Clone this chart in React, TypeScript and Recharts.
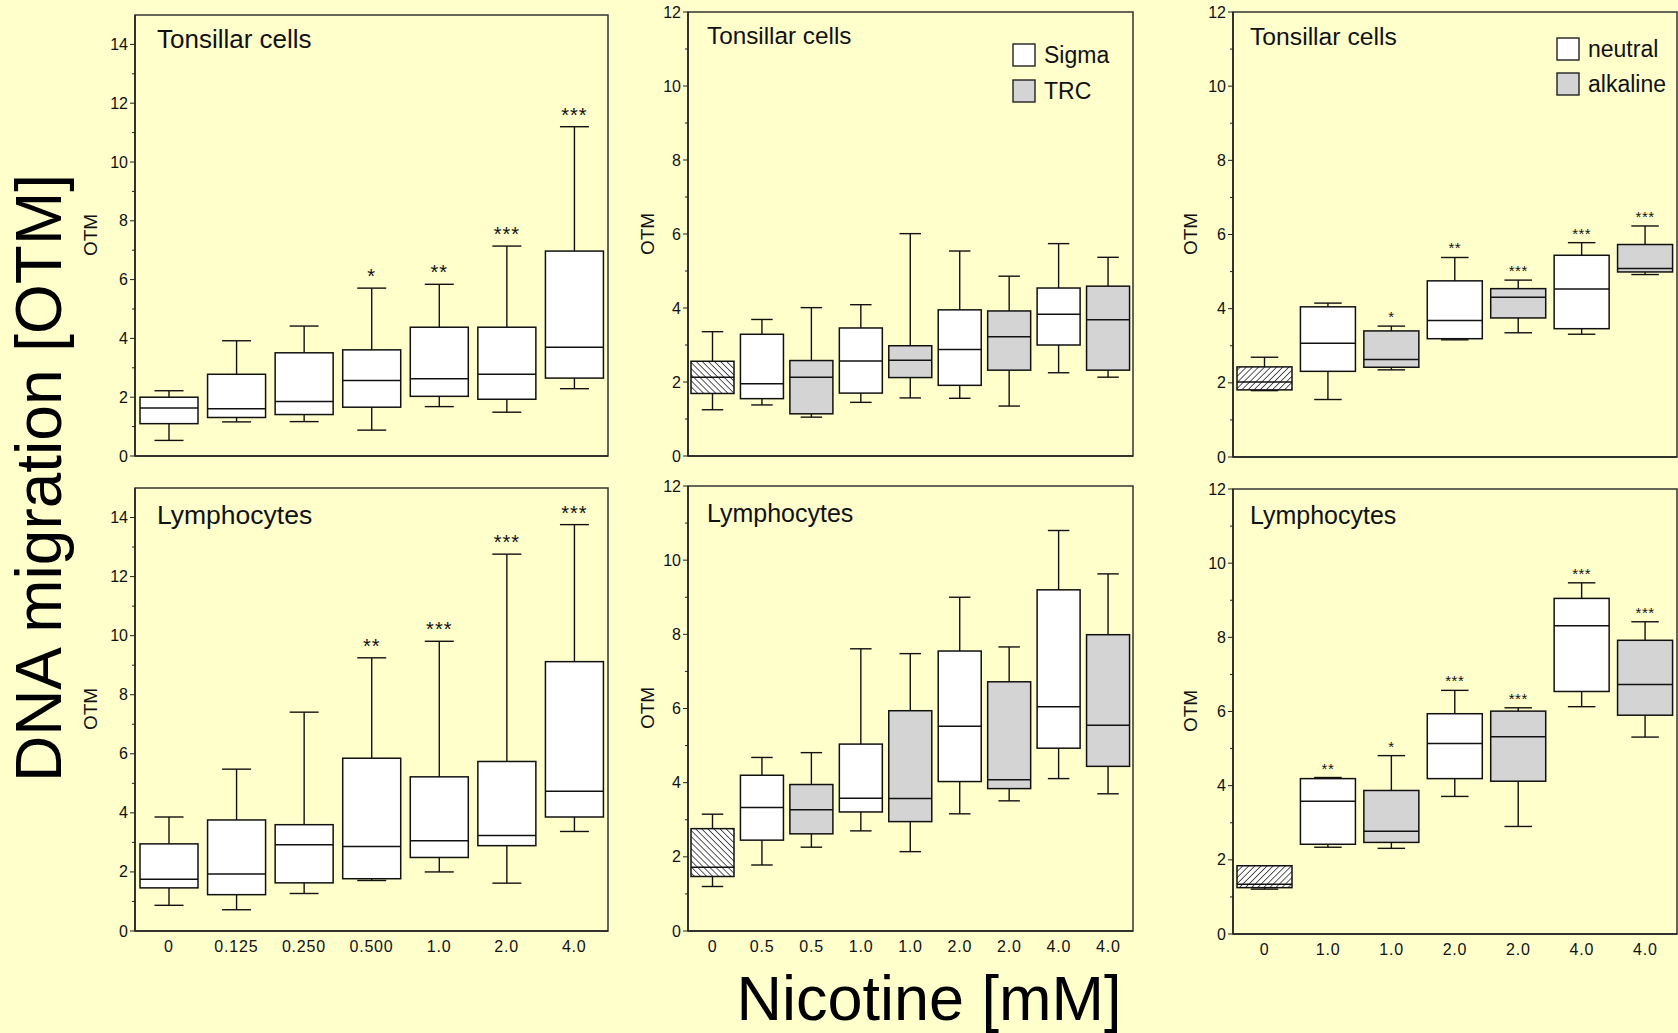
import React from 'react';
import { ComposedChart, Bar, XAxis, YAxis, ReferenceArea } from 'recharts';

const FONT = '"Liberation Sans", Arial, Helvetica, sans-serif';
const BG = '#FFFFCC';
const INK = '#111';

// left column: nicotine dose series
const doseLabels = ['0', '0.125', '0.250', '0.500', '1.0', '2.0', '4.0'];
const doseGroups = ['control', 'nicotine', 'nicotine', 'nicotine', 'nicotine', 'nicotine', 'nicotine'];

const tonsilDoseLow = [0.53, 1.16, 1.17, 0.88, 1.68, 1.49, 2.29];
const tonsilDoseQ1 = [1.10, 1.31, 1.41, 1.66, 2.03, 1.93, 2.65];
const tonsilDoseMed = [1.63, 1.61, 1.85, 2.57, 2.63, 2.78, 3.70];
const tonsilDoseQ3 = [2.00, 2.78, 3.51, 3.61, 4.38, 4.38, 6.97];
const tonsilDoseHigh = [2.22, 3.92, 4.42, 5.71, 5.84, 7.14, 11.2];
const tonsilDoseSig = ['', '', '', '*', '**', '***', '***'];

const lymphDoseLow = [0.87, 0.72, 1.27, 1.71, 2.00, 1.62, 3.37];
const lymphDoseQ1 = [1.46, 1.23, 1.63, 1.77, 2.49, 2.89, 3.86];
const lymphDoseMed = [1.75, 1.93, 2.92, 2.86, 3.06, 3.23, 4.73];
const lymphDoseQ3 = [2.95, 3.76, 3.60, 5.85, 5.22, 5.74, 9.12];
const lymphDoseHigh = [3.86, 5.48, 7.41, 9.25, 9.81, 12.76, 13.76];
const lymphDoseSig = ['', '', '', '**', '***', '***', '***'];

// middle column: Sigma vs TRC nicotine
const supplierLabels = ['0', '0.5', '0.5', '1.0', '1.0', '2.0', '2.0', '4.0', '4.0'];
const supplierGroups = ['control', 'Sigma', 'TRC', 'Sigma', 'TRC', 'Sigma', 'TRC', 'Sigma', 'TRC'];

const tonsilSupLow = [1.25, 1.38, 1.05, 1.45, 1.57, 1.56, 1.35, 2.25, 2.13];
const tonsilSupQ1 = [1.69, 1.55, 1.14, 1.70, 2.12, 1.91, 2.32, 3.00, 2.32];
const tonsilSupMed = [2.13, 1.95, 2.13, 2.57, 2.59, 2.88, 3.22, 3.83, 3.68];
const tonsilSupQ3 = [2.56, 3.29, 2.58, 3.46, 2.98, 3.95, 3.92, 4.54, 4.59];
const tonsilSupHigh = [3.36, 3.69, 4.01, 4.09, 6.01, 5.54, 4.86, 5.74, 5.37];

const lymphSupLow = [1.20, 1.78, 2.26, 2.70, 2.14, 3.16, 3.51, 4.11, 3.70];
const lymphSupQ1 = [1.47, 2.45, 2.62, 3.21, 2.95, 4.03, 3.84, 4.93, 4.44];
const lymphSupMed = [1.72, 3.33, 3.27, 3.58, 3.57, 5.52, 4.08, 6.05, 5.55];
const lymphSupQ3 = [2.76, 4.20, 3.95, 5.04, 5.94, 7.55, 6.72, 9.20, 7.99];
const lymphSupHigh = [3.15, 4.68, 4.81, 7.61, 7.48, 9.00, 7.66, 10.80, 9.63];

// right column: neutral vs alkaline comet assay
const phLabels = ['0', '1.0', '1.0', '2.0', '2.0', '4.0', '4.0'];
const phGroups = ['control', 'neutral', 'alkaline', 'neutral', 'alkaline', 'neutral', 'alkaline'];

const tonsilPhLow = [1.79, 1.55, 2.35, 3.16, 3.35, 3.31, 4.92];
const tonsilPhQ1 = [1.81, 2.31, 2.42, 3.19, 3.75, 3.46, 4.99];
const tonsilPhMed = [2.02, 3.07, 2.63, 3.68, 4.31, 4.53, 5.08];
const tonsilPhQ3 = [2.43, 4.05, 3.40, 4.75, 4.54, 5.44, 5.73];
const tonsilPhHigh = [2.69, 4.15, 3.53, 5.38, 4.77, 5.78, 6.23];
const tonsilPhSig = ['', '', '*', '**', '***', '***', '***'];

const lymphPhLow = [1.21, 2.34, 2.31, 3.71, 2.90, 6.13, 5.31];
const lymphPhQ1 = [1.25, 2.42, 2.47, 4.19, 4.12, 6.54, 5.90];
const lymphPhMed = [1.34, 3.58, 2.77, 5.14, 5.32, 8.31, 6.73];
const lymphPhQ3 = [1.84, 4.19, 3.87, 5.94, 6.01, 9.05, 7.92];
const lymphPhHigh = [1.84, 4.22, 4.81, 6.57, 6.10, 9.47, 8.42];
const lymphPhSig = ['', '**', '*', '***', '***', '***', '***'];

type Row = {
  label: string; group: string;
  low: number; q1: number; med: number; q3: number; high: number; sig: string;
};

const makeRows = (
  labels: string[], groups: string[], low: number[], q1: number[], med: number[],
  q3: number[], high: number[], sig?: string[],
): Row[] =>
  labels.map((label, i) => ({
    label, group: groups[i], low: low[i], q1: q1[i], med: med[i], q3: q3[i], high: high[i],
    sig: sig ? sig[i] : '',
  }));

const GRAY = '#D4D4D4';
const groupFill: Record<string, string> = {
  nicotine: '#fff', Sigma: '#fff', neutral: '#fff', TRC: GRAY, alkaline: GRAY,
};

const AXIS_W = 60;
const PAD_T = 10;
const PAD_R = 2;
const X_H = 40;

const BoxShape = (props: any) => {
  const { x, y, width, height, payload, controlFill, starSize } = props;
  if (!payload || height == null || !isFinite(y)) return null;
  const { low, high, q1, med, q3, group, sig } = payload as Row;
  // map values to pixels from the range bar recharts laid out (high -> y, low -> y + height)
  const py = (v: number) => y + (height * (high - v)) / (high - low);
  const cx = x + width / 2;
  const cap = width * 0.25;
  const fill = group === 'control' ? controlFill : groupFill[group];
  return (
    <g>
      <line x1={cx} x2={cx} y1={py(high)} y2={py(low)} stroke={INK} strokeWidth={1.4} />
      <line x1={cx - cap} x2={cx + cap} y1={py(high)} y2={py(high)} stroke={INK} strokeWidth={1.4} />
      <line x1={cx - cap} x2={cx + cap} y1={py(low)} y2={py(low)} stroke={INK} strokeWidth={1.4} />
      <rect x={x} y={py(q3)} width={width} height={py(q1) - py(q3)} fill={fill} stroke={INK} strokeWidth={1.5} />
      <line x1={x} x2={x + width} y1={py(med)} y2={py(med)} stroke={INK} strokeWidth={1.5} />
      {sig && (
        <text x={cx} y={py(high) - (starSize > 16 ? 5 : 4)} textAnchor="middle" fontSize={starSize}
          fontFamily={FONT} fill={INK} letterSpacing={starSize > 16 ? 1 : 0.5}>{sig}</text>
      )}
    </g>
  );
};

const YTick = (props: any) => {
  const { y, payload, axisX } = props;
  const v = Number(payload.value);
  const major = v % 2 === 0;
  return (
    <g>
      <line x1={axisX - (major ? 5 : 3)} x2={axisX} y1={y} y2={y} stroke="#222" strokeWidth={1} />
      {major && (
        <text x={axisX - 7} y={y} dy={5.5} textAnchor="end" fontSize={16} fontFamily={FONT} fill={INK}>{v}</text>
      )}
    </g>
  );
};

const XTick = (props: any) => {
  const { x, payload, axisY } = props;
  return (
    <text x={x} y={axisY + 20.5} textAnchor="middle" fontSize={16} letterSpacing={0.8}
      fontFamily={FONT} fill={INK}>{payload.value}</text>
  );
};

type Plot = { left: number; top: number; width: number; height: number };

const BoxPanel: React.FC<{
  rows: Row[]; yMax: number; tickMax: number; plot: Plot; barSize: number;
  controlFill: string; starSize: number; showX: boolean;
}> = ({ rows, yMax, tickMax, plot, barSize, controlFill, starSize, showX }) => {
  const yTicks = Array.from({ length: tickMax + 1 }, (_, i) => i);
  const axisY = PAD_T + plot.height;
  return (
    <div style={{ position: 'absolute', left: plot.left - AXIS_W, top: plot.top - PAD_T }}>
      <ComposedChart
        width={AXIS_W + plot.width + PAD_R}
        height={PAD_T + plot.height + X_H}
        data={rows}
        margin={{ top: PAD_T, right: PAD_R, bottom: 0, left: 0 }}
      >
        <XAxis
          dataKey="label"
          height={X_H}
          interval={0}
          tickLine={false}
          axisLine={{ stroke: '#222', strokeWidth: 1.5 }}
          tick={showX ? <XTick axisY={axisY} /> : false}
        />
        <YAxis
          type="number"
          width={AXIS_W}
          domain={[0, yMax]}
          ticks={yTicks}
          interval={0}
          tickLine={false}
          axisLine={{ stroke: '#222', strokeWidth: 1.5 }}
          tick={<YTick axisX={AXIS_W} />}
        />
        <ReferenceArea y1={0} y2={yMax} fill="none" stroke="#333" strokeWidth={1.5} ifOverflow="visible" />
        <Bar
          dataKey={(d: Row) => [d.low, d.high]}
          barSize={barSize}
          isAnimationActive={false}
          shape={(p: any) => <BoxShape {...p} controlFill={controlFill} starSize={starSize} />}
        />
      </ComposedChart>
    </div>
  );
};

const panels = [
  { key: 'tl', rows: makeRows(doseLabels, doseGroups, tonsilDoseLow, tonsilDoseQ1, tonsilDoseMed, tonsilDoseQ3, tonsilDoseHigh, tonsilDoseSig),
    yMax: 15, tickMax: 14, plot: { left: 135, top: 15, width: 473, height: 441 }, barSize: 58, controlFill: '#fff', starSize: 20, showX: false },
  { key: 'bl', rows: makeRows(doseLabels, doseGroups, lymphDoseLow, lymphDoseQ1, lymphDoseMed, lymphDoseQ3, lymphDoseHigh, lymphDoseSig),
    yMax: 15, tickMax: 14, plot: { left: 135, top: 488, width: 473, height: 443 }, barSize: 58, controlFill: '#fff', starSize: 20, showX: true },
  { key: 'tm', rows: makeRows(supplierLabels, supplierGroups, tonsilSupLow, tonsilSupQ1, tonsilSupMed, tonsilSupQ3, tonsilSupHigh),
    yMax: 12, tickMax: 12, plot: { left: 688, top: 12, width: 445, height: 444 }, barSize: 43, controlFill: 'url(#hatchDown)', starSize: 14, showX: false },
  { key: 'bm', rows: makeRows(supplierLabels, supplierGroups, lymphSupLow, lymphSupQ1, lymphSupMed, lymphSupQ3, lymphSupHigh),
    yMax: 12, tickMax: 12, plot: { left: 688, top: 486, width: 445, height: 445 }, barSize: 43, controlFill: 'url(#hatchDown)', starSize: 14, showX: true },
  { key: 'tr', rows: makeRows(phLabels, phGroups, tonsilPhLow, tonsilPhQ1, tonsilPhMed, tonsilPhQ3, tonsilPhHigh, tonsilPhSig),
    yMax: 12, tickMax: 12, plot: { left: 1233, top: 12, width: 444, height: 445 }, barSize: 55, controlFill: 'url(#hatchUp)', starSize: 15, showX: false },
  { key: 'br', rows: makeRows(phLabels, phGroups, lymphPhLow, lymphPhQ1, lymphPhMed, lymphPhQ3, lymphPhHigh, lymphPhSig),
    yMax: 12, tickMax: 12, plot: { left: 1233, top: 489, width: 444, height: 445 }, barSize: 55, controlFill: 'url(#hatchUp)', starSize: 15, showX: true },
];

const titles = [
  { text: 'Tonsillar cells', x: 157, y: 48, size: 26 },
  { text: 'Lymphocytes', x: 157, y: 524, size: 26.5 },
  { text: 'Tonsillar cells', x: 707, y: 44, size: 24.3 },
  { text: 'Lymphocytes', x: 707, y: 522, size: 25 },
  { text: 'Tonsillar cells', x: 1250, y: 45, size: 24.7 },
  { text: 'Lymphocytes', x: 1250, y: 524, size: 25 },
];

const otmLabels = [
  { x: 97, y: 235 }, { x: 97, y: 709 },
  { x: 654, y: 234 }, { x: 654, y: 708 },
  { x: 1197, y: 234 }, { x: 1197, y: 711 },
];

const legends = [
  { x: 1013, items: [{ name: 'Sigma', fill: '#fff', y: 44 }, { name: 'TRC', fill: GRAY, y: 80 }] },
  { x: 1557, items: [{ name: 'neutral', fill: '#fff', y: 38 }, { name: 'alkaline', fill: GRAY, y: 73 }] },
];

export default function App() {
  return (
    <div style={{ position: 'absolute', left: 0, top: 0, width: 1678, height: 1033, background: BG, overflow: 'hidden', fontFamily: FONT }}>
      <svg width={0} height={0} style={{ position: 'absolute' }}>
        <defs>
          <pattern id="hatchDown" width={4.3} height={4.3} patternUnits="userSpaceOnUse" patternTransform="rotate(-45)">
            <rect width={4.3} height={4.3} fill="#fff" />
            <line x1={0} y1={0} x2={0} y2={4.3} stroke="#111" strokeWidth={1.4} />
          </pattern>
          <pattern id="hatchUp" width={4.3} height={4.3} patternUnits="userSpaceOnUse" patternTransform="rotate(45)">
            <rect width={4.3} height={4.3} fill="#fff" />
            <line x1={0} y1={0} x2={0} y2={4.3} stroke="#111" strokeWidth={1.4} />
          </pattern>
        </defs>
      </svg>

      {panels.map((p) => (
        <BoxPanel key={p.key} rows={p.rows} yMax={p.yMax} tickMax={p.tickMax} plot={p.plot}
          barSize={p.barSize} controlFill={p.controlFill} starSize={p.starSize} showX={p.showX} />
      ))}

      <svg width={1678} height={1033} style={{ position: 'absolute', left: 0, top: 0, pointerEvents: 'none' }}>
        {titles.map((t, i) => (
          <text key={i} x={t.x} y={t.y} fontSize={t.size} fontFamily={FONT} fill={INK}>{t.text}</text>
        ))}
        {otmLabels.map((o, i) => (
          <text key={i} x={o.x} y={o.y} transform={`rotate(-90 ${o.x} ${o.y})`} textAnchor="middle"
            fontSize={19} fontFamily={FONT} fill={INK}>OTM</text>
        ))}
        {legends.map((lg, i) => (
          <g key={i}>
            {lg.items.map((it) => (
              <g key={it.name}>
                <rect x={lg.x} y={it.y} width={22} height={22} fill={it.fill} stroke="#222" strokeWidth={1.4} />
                <text x={lg.x + 31} y={it.y + 19} fontSize={23} fontFamily={FONT} fill={INK}>{it.name}</text>
              </g>
            ))}
          </g>
        ))}
        <text x={61} y={478} transform="rotate(-90 61 478)" textAnchor="middle" fontSize={64} fontFamily={FONT} fill="#000">
          DNA migration [OTM]
        </text>
        <text x={929} y={1020} textAnchor="middle" fontSize={63} fontFamily={FONT} fill="#000">Nicotine [mM]</text>
      </svg>
    </div>
  );
}
